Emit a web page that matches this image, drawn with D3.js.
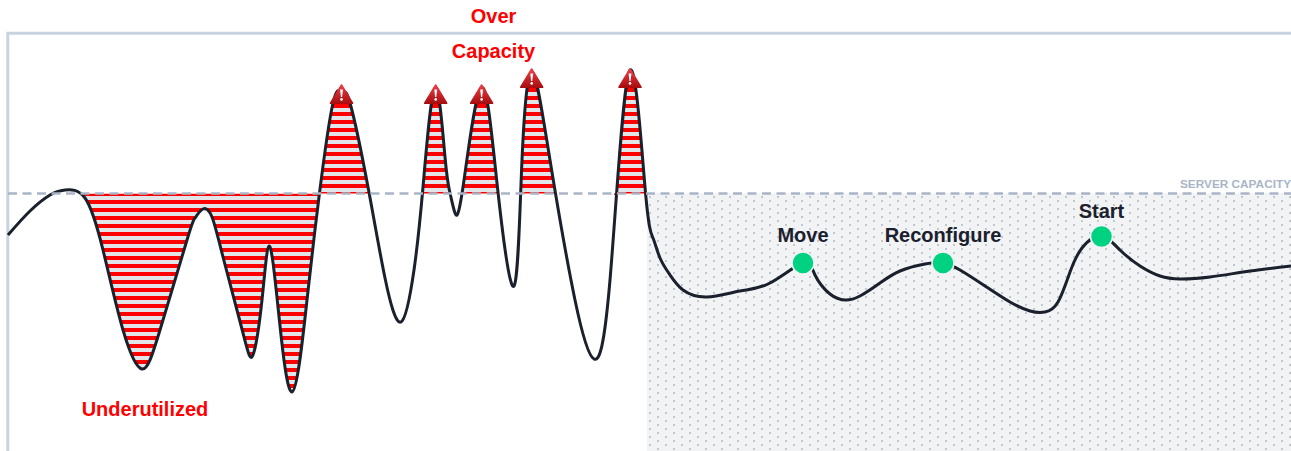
<!DOCTYPE html>
<html>
<head>
<meta charset="utf-8">
<script src="https://cdn.jsdelivr.net/npm/d3@7"></script>
<style>
  html, body { margin: 0; padding: 0; background: #fff; overflow: hidden; }
  text { font-family: "Liberation Sans", Arial, sans-serif; font-weight: bold; }
</style>
</head>
<body>
<svg id="chart"></svg>
<script>
const width = 1291, height = 451;

// time and server load
const times = [8, 30, 50, 65, 85, 103, 123, 142, 160, 187, 195, 203, 212, 223, 243, 253, 262, 269, 278, 292, 307, 319,
  333, 342, 350, 368, 385, 401, 414, 423, 435, 445, 450, 455, 463, 481, 497, 514, 522, 532, 550, 575, 594, 610, 629, 645,
  653, 660, 670, 683, 707, 740, 770, 803, 815, 830, 845, 860, 880, 900, 925, 943, 960, 985, 1010, 1030, 1045, 1058, 1070, 1082, 1101, 1120, 1140, 1160, 1180, 1210, 1250, 1291];
const load = [216, 240, 256, 261, 253, 201, 121, 82, 121, 211, 233, 242, 234, 194, 118, 96, 151, 205, 144, 59, 151, 254,
  348, 359, 348, 264, 173, 129, 181, 264, 363, 294, 258, 238, 264, 363, 268, 165, 291, 379, 291, 151, 92, 171, 379, 264,
  213, 193, 176, 161, 154, 160, 168, 188, 176, 157, 151, 155, 168, 180, 187, 188, 181, 165, 149, 140, 139, 149, 179, 203, 215, 201, 185, 175, 172, 174, 180, 185];

const capacity = 257.5;
const underSpan = [78, 320];
const overSpans = [[320, 369], [422, 450], [462, 498], [519, 556], [614, 648]];
const dcSpan = [647, 1291];

const peaks = [341.5, 435.7, 481.6, 531.7, 630];
const alertBase = [347, 347, 347, 363, 363];

const actions = ["Move", "Reconfigure", "Start"];
const actionTimes = [803, 943, 1101.5];
const actionLoad = [188, 188, 214.5];
const actionLabelLoad = [209, 209, 233];

const notes = ["Over", "Capacity", "Underutilized"];
const noteTimes = [493.5, 493.5, 145];
const noteLoad = [428, 393, 35];

const svg = d3.select("#chart").attr("width", width).attr("height", height);
const x = d3.scaleLinear().domain([0, width]).range([0, width]);
const y = d3.scaleLinear().domain([0, height]).range([height, 0]);

const defs = svg.append("defs");

const stripes = defs.append("pattern").attr("id", "stripes").attr("patternUnits", "userSpaceOnUse")
  .attr("width", 8).attr("height", 8).attr("y", 0);
stripes.append("rect").attr("width", 8).attr("height", 8).attr("fill", "#e2e4e8");
stripes.append("rect").attr("y", 0).attr("width", 8).attr("height", 4).attr("fill", "#ff0000");

const dots = defs.append("pattern").attr("id", "dots").attr("patternUnits", "userSpaceOnUse")
  .attr("width", 16).attr("height", 8).attr("x", 649).attr("y", 196);
dots.append("rect").attr("width", 16).attr("height", 8).attr("fill", "#f1f3f5");
dots.append("rect").attr("width", 2).attr("height", 2).attr("fill", "#c3c7cd");
dots.append("rect").attr("x", 8).attr("y", 4).attr("width", 2).attr("height", 2).attr("fill", "#c3c7cd");

const alertFill = defs.append("linearGradient").attr("id", "alertFill").attr("x1", 0).attr("x2", 0).attr("y1", 0).attr("y2", 1);
alertFill.append("stop").attr("offset", "0%").attr("stop-color", "#ec3f45");
alertFill.append("stop").attr("offset", "100%").attr("stop-color", "#a80e10");

defs.append("clipPath").attr("id", "underClip").append("rect")
  .attr("x", x(underSpan[0])).attr("y", y(capacity))
  .attr("width", x(underSpan[1]) - x(underSpan[0])).attr("height", height - y(capacity));
defs.append("clipPath").attr("id", "overClip").selectAll("rect").data(overSpans).join("rect")
  .attr("x", d => x(d[0])).attr("y", 0)
  .attr("width", d => x(d[1]) - x(d[0])).attr("height", y(capacity) + 1.5);

const points = times.map((t, i) => [t, load[i]]);

// grey zone on the right
svg.append("rect").attr("x", x(dcSpan[0])).attr("y", y(capacity))
  .attr("width", x(dcSpan[1]) - x(dcSpan[0])).attr("height", height - y(capacity))
  .attr("fill", "url(#dots)");

// frame
svg.append("path").attr("d", `M7.8,${height}V33.2H${width}`)
  .attr("fill", "none").attr("stroke", "#c9d3e0").attr("stroke-width", 3);

const area = d3.area().curve(d3.curveNatural)
  .x(d => x(d[0])).y0(y(capacity)).y1(d => y(d[1]));
const line = d3.line().curve(d3.curveNatural)
  .x(d => x(d[0])).y(d => y(d[1]));

svg.append("path").attr("d", area(points)).attr("fill", "url(#stripes)").attr("clip-path", "url(#underClip)");
svg.append("path").attr("d", area(points)).attr("fill", "url(#stripes)").attr("clip-path", "url(#overClip)");

svg.append("path").attr("d", line(points)).attr("fill", "none")
  .attr("stroke", "#1a202c").attr("stroke-width", 3);

// server capacity line
svg.append("line").attr("x1", x(8)).attr("x2", x(width)).attr("y1", y(capacity)).attr("y2", y(capacity))
  .attr("stroke", "#a9b5c6").attr("stroke-width", 2.5).attr("stroke-dasharray", "9 5.5");
svg.append("text").attr("x", x(1180)).attr("y", y(capacity) - 5.5)
  .attr("font-size", 11.8).attr("fill", "#a9b5c6").text("SERVER CAPACITY");

// alert triangles
const alerts = svg.selectAll(".alert").data(peaks).join("g").attr("class", "alert")
  .attr("transform", (d, i) => `translate(${x(d)},${y(alertBase[i])})`);
alerts.append("path").attr("d", "M0,-19L11,-0.8H-11Z").attr("fill", "url(#alertFill)")
  .attr("stroke", "url(#alertFill)").attr("stroke-width", 1.6).attr("stroke-linejoin", "round");
alerts.append("path").attr("d", "M-1.4,-14.5H1.4L0.6,-7H-0.6Z").attr("fill", "#fff");
alerts.append("circle").attr("cy", -4.6).attr("r", 1.3).attr("fill", "#fff");

// actions
svg.selectAll(".action").data(actions).join("circle").attr("class", "action")
  .attr("cx", (d, i) => x(actionTimes[i])).attr("cy", (d, i) => y(actionLoad[i])).attr("r", 11)
  .attr("fill", "#00d282").attr("stroke", "#f1f3f5").attr("stroke-width", 1.5);
svg.selectAll(".actionLabel").data(actions).join("text").attr("class", "actionLabel")
  .attr("x", (d, i) => x(actionTimes[i])).attr("y", (d, i) => y(actionLabelLoad[i]))
  .attr("text-anchor", "middle").attr("font-size", 20).attr("fill", "#1a202c").text(d => d);

// red notes
svg.selectAll(".note").data(notes).join("text").attr("class", "note")
  .attr("x", (d, i) => x(noteTimes[i])).attr("y", (d, i) => y(noteLoad[i]))
  .attr("text-anchor", "middle").attr("font-size", 20).attr("fill", "#ff0000").text(d => d);
</script>
</body>
</html>
